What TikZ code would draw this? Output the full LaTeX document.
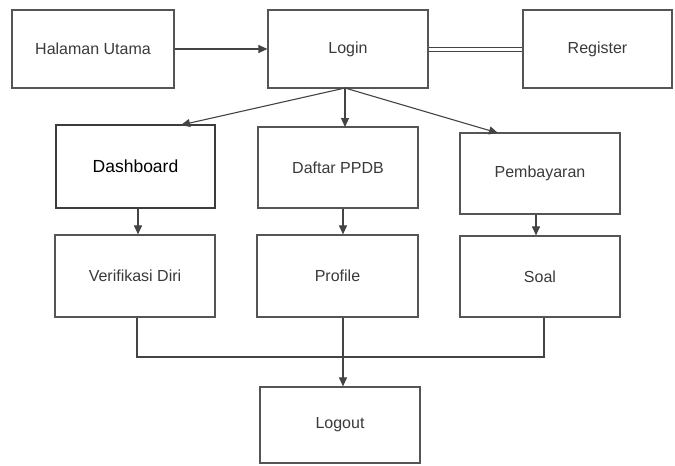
\documentclass[tikz,border=0pt]{standalone}
\usepackage{fontspec}
\setmainfont{Liberation Sans}
\usetikzlibrary{arrows.meta}
\definecolor{boxline}{HTML}{555555}
\definecolor{txt}{HTML}{3A3A3A}
\tikzset{
  x=1pt, y=-1pt,
  block/.style={draw=boxline, line width=1.2pt, fill=white, minimum width=160pt,
    minimum height=80pt, inner sep=0pt, text=txt, font=\fontsize{16}{18}\selectfont},
  flow/.style={draw=boxline!80!black, line width=1.1pt,
    -{Triangle[length=9pt,width=8pt]}},
  link/.style={draw=boxline!80!black, line width=1.1pt},
}
\begin{document}
\begin{tikzpicture}
\useasboundingbox[fill=white] (0,0) rectangle (675,466);

% top row
\node[block, minimum width=162pt, minimum height=78pt] (hal) at (93,49) {Halaman Utama};
\node[block, minimum height=78pt] (login) at (348,49) {Login};
\node[block, minimum width=149pt, minimum height=78pt] (reg) at (597.5,49) {Register};

% second row
\node[block, minimum width=159pt, minimum height=83pt, line width=1.6pt, draw=boxline!70!black,
      font=\fontsize{17.5}{20}\selectfont, text=black] (dash) at (135.5,166.5) {Dashboard};
\node[block, minimum height=81pt] (daftar) at (338,167.5) {Daftar PPDB};
\node[block, minimum height=81pt] (pemb) at (540,173.5) {Pembayaran};

% third row
\node[block, minimum height=82pt] (verif) at (135,276) {Verifikasi Diri};
\node[block, minimum width=161pt, minimum height=82pt] (prof) at (337.5,276) {Profile};
\node[block, minimum height=81pt] (soal) at (540,276.5) {Soal};

% bottom
\node[block, minimum height=76pt] (logout) at (340,425) {Logout};

% connectors
\draw[flow] (hal.east) -- (login.west);
\draw[link, double, double distance=3pt, line width=1pt] (login.east) -- (reg.west);

\coordinate (fork) at (345,88);
\draw[flow] (fork) -- (181,125);
\draw[flow] (fork) -- (345,127);
\draw[flow] (fork) -- (498,133);

\draw[flow] (dash.south -| 138,0) -- (verif.north -| 138,0);
\draw[flow] (daftar.south -| 343,0) -- (prof.north -| 343,0);
\draw[flow] (pemb.south -| 536,0) -- (soal.north -| 536,0);

\coordinate (join) at (343,357);
\draw[link] (verif.south -| 137,0) |- (join);
\draw[link] (soal.south -| 544,0) |- (join);
\draw[flow] (prof.south -| 343,0) -- (logout.north -| 343,0);
\end{tikzpicture}
\end{document}
